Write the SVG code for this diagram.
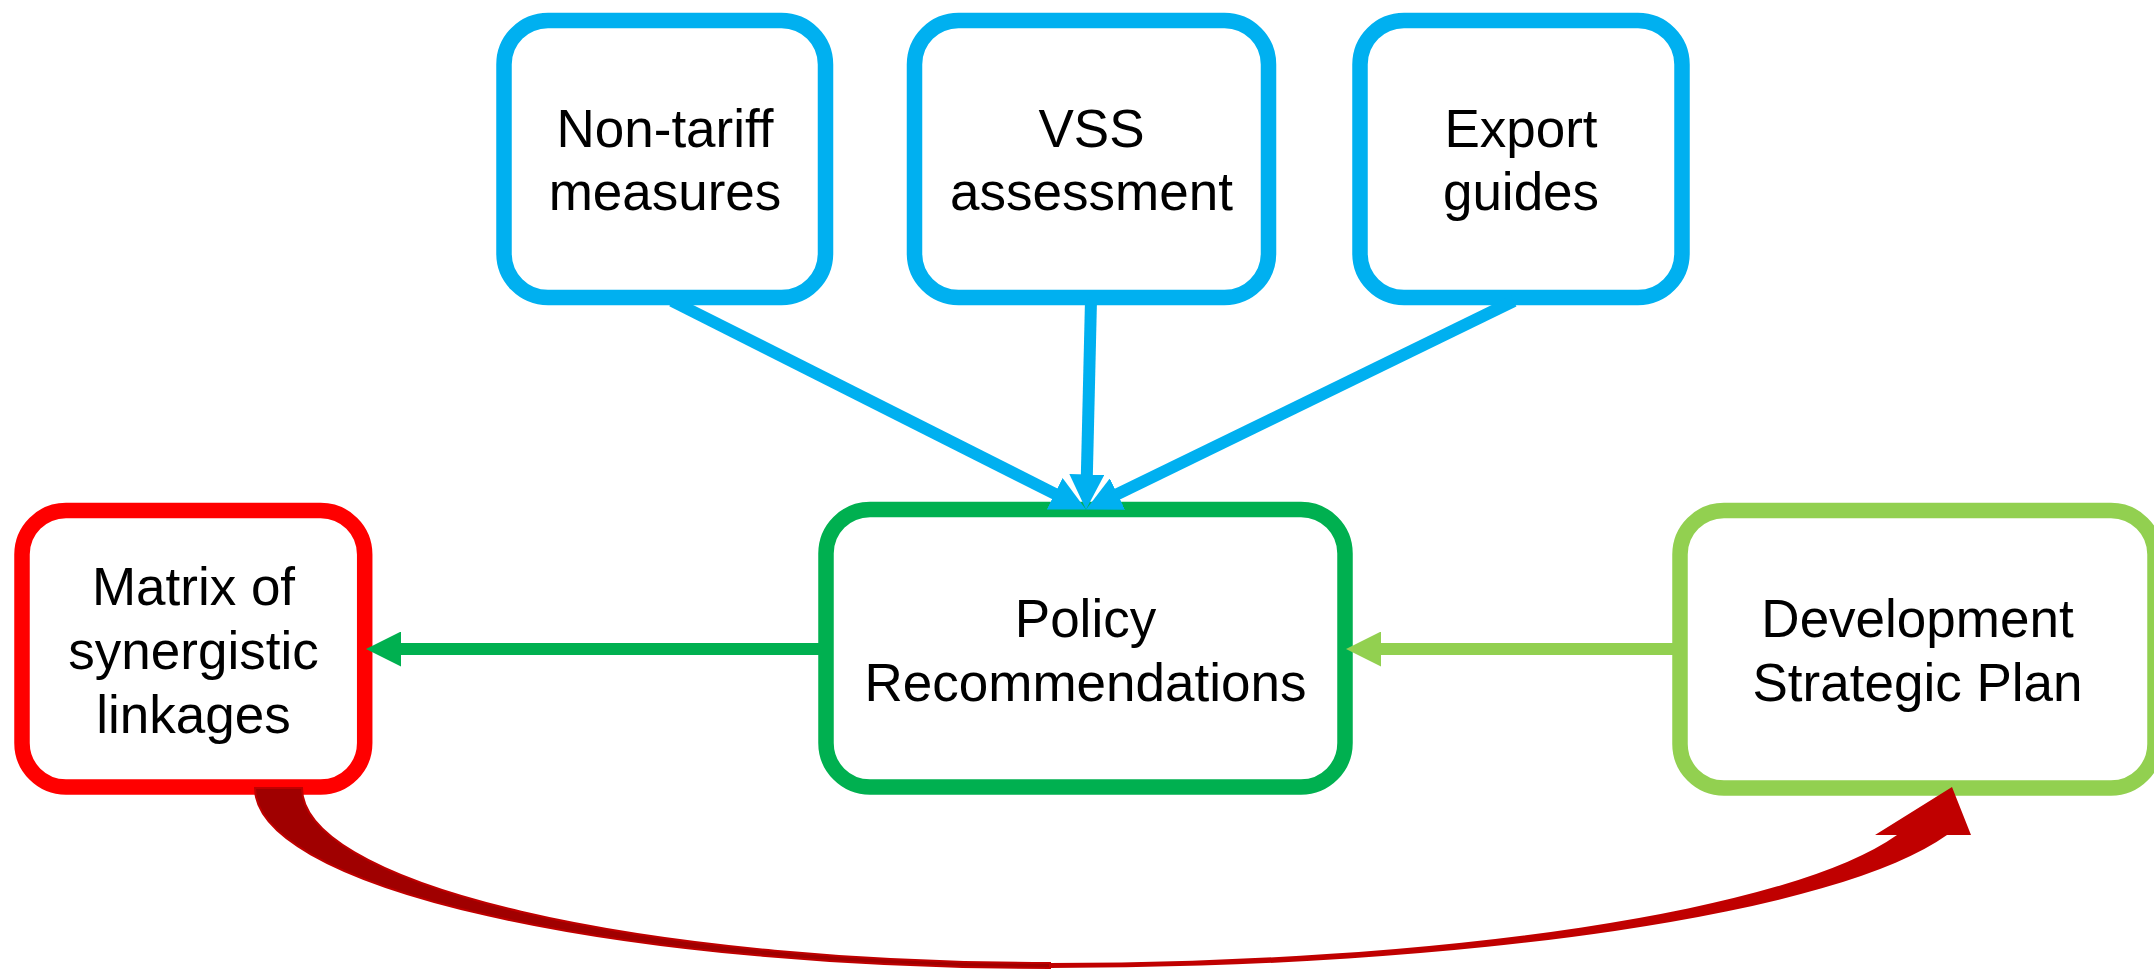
<svg xmlns="http://www.w3.org/2000/svg" width="2154" height="969" viewBox="0 0 2154 969">
<style>
.box{fill:#FFFFFF;stroke-width:15.5}
.blue{stroke:#00B0F0}
.green{stroke:#00B050}
.lgreen{stroke:#92D050}
.red{stroke:#FF0000}
.lbl{font-family:"Liberation Sans",Arial,sans-serif;font-size:53px;fill:#000000;text-anchor:middle}
.conn{fill:none;stroke-width:12}
</style>
<defs>
<marker id="ahBlue" markerUnits="userSpaceOnUse" viewBox="0 0 35 35" markerWidth="35" markerHeight="35" refX="15" refY="17.5" orient="auto"><path d="M0,0 L35,17.5 L0,35 Z" fill="#00B0F0"/></marker>
<marker id="ahGreen" markerUnits="userSpaceOnUse" viewBox="0 0 35 35" markerWidth="35" markerHeight="35" refX="15" refY="17.5" orient="auto"><path d="M0,0 L35,17.5 L0,35 Z" fill="#00B050"/></marker>
<marker id="ahLGreen" markerUnits="userSpaceOnUse" viewBox="0 0 35 35" markerWidth="35" markerHeight="35" refX="15" refY="17.5" orient="auto"><path d="M0,0 L35,17.5 L0,35 Z" fill="#92D050"/></marker>
</defs>
<rect width="2154" height="969" fill="#FFFFFF"/>
<g id="node-nontariff">
<rect class="box blue" x="504" y="20.5" width="321.5" height="277" rx="44"/>
<text class="lbl" x="665" y="147">Non-tariff</text>
<text class="lbl" x="665" y="210">measures</text>
</g>
<g id="node-vss">
<rect class="box blue" x="914.5" y="20.5" width="354" height="277" rx="44"/>
<text class="lbl" x="1091.5" y="147">VSS</text>
<text class="lbl" x="1091.5" y="210">assessment</text>
</g>
<g id="node-export">
<rect class="box blue" x="1360" y="20.5" width="322" height="277" rx="44"/>
<text class="lbl" x="1521" y="147">Export</text>
<text class="lbl" x="1521" y="210">guides</text>
</g>
<g id="node-matrix">
<rect class="box red" x="22" y="510.5" width="342.7" height="276.5" rx="44"/>
<text class="lbl" x="193.5" y="605">Matrix of</text>
<text class="lbl" x="193.5" y="669">synergistic</text>
<text class="lbl" x="193.5" y="733">linkages</text>
</g>
<g id="node-policy">
<rect class="box green" x="826" y="509.5" width="519" height="277.5" rx="44"/>
<text class="lbl" x="1085.5" y="637">Policy</text>
<text class="lbl" x="1085.5" y="701">Recommendations</text>
</g>
<g id="node-development">
<rect class="box lgreen" x="1680" y="510.5" width="475" height="277.5" rx="44"/>
<text class="lbl" x="1917.5" y="637">Development</text>
<text class="lbl" x="1917.5" y="701">Strategic Plan</text>
</g>
<g id="connectors">
<path class="conn blue" d="M672,301 L1068.1,500.5" marker-end="url(#ahBlue)"/>
<path class="conn blue" d="M1513.8,301 L1104,500.7" marker-end="url(#ahBlue)"/>
<path class="conn blue" d="M1091,300 L1086.5,489.5" marker-end="url(#ahBlue)"/>
<path class="conn green" d="M826,649 L386,649" marker-end="url(#ahGreen)"/>
<path class="conn lgreen" d="M1680,649 L1366,649" marker-end="url(#ahLGreen)"/>
<path d="M255,788 A795,180 0 0 0 1050,968 L1050,963 A748,175 0 0 1 302,788 Z" fill="#A00000" stroke="#C00000" stroke-width="2"/>
<path d="M1050,968 A929,180 0 0 0 1947,835 L1971,835 L1952,787 L1875,835 L1897,835 A879,175 0 0 1 1050,963 Z" fill="#C00000"/>
</g>
</svg>
